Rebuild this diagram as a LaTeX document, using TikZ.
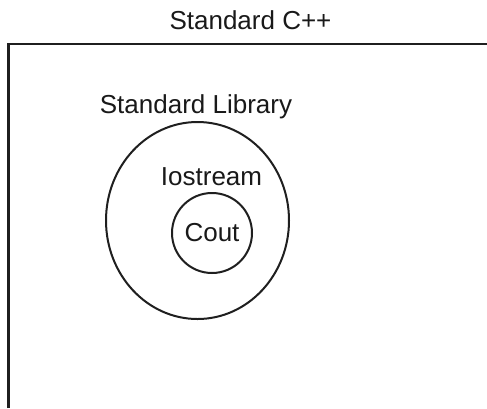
\documentclass[tikz,border=0pt]{standalone}
\usepackage{fontspec}
\setmainfont{Liberation Sans}
\begin{document}
\begin{tikzpicture}[x=1pt,y=-1pt,
  lbl/.style={anchor=base,inner sep=0pt,text=black!90,font=\fontsize{26}{30}\selectfont},
  frameline/.style={line width=2.3pt,draw=black!88},
  ringline/.style={line width=2pt,draw=black!88}]
\useasboundingbox (0,0) rectangle (487,408);
\draw[frameline] (8.5,408) -- (8.5,44) -- (487,44);
\draw[ringline] (197.5,220.5) ellipse [x radius=91.5, y radius=98.5];
\draw[ringline] (212,233) circle [radius=40];
\node[lbl] (cpp) at (250.5,29.3) {Standard C++};
\node[lbl] (lib) at (196,113) {Standard Library};
\node[lbl] (ios) at (211.5,185.5) {Iostream};
\node[lbl] (cout) at (212,241) {Cout};
\end{tikzpicture}
\end{document}
